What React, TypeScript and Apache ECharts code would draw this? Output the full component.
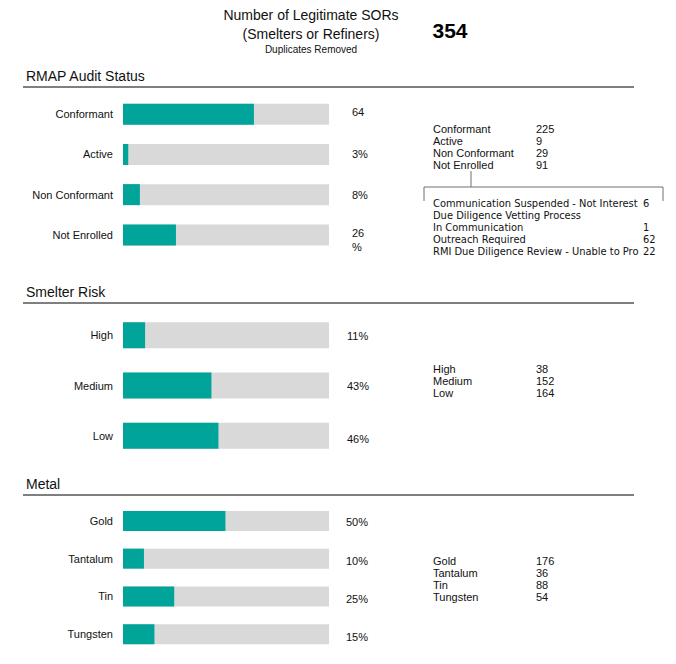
import React, { useEffect, useRef } from "react";
import * as echarts from "echarts";

const total = 354;
const titleLines = ["Number of Legitimate SORs", "(Smelters or Refiners)"];
const subtitle = "Duplicates Removed";

const sectionTitles = ["RMAP Audit Status", "Smelter Risk", "Metal"];

const rmapCategories = ["Conformant", "Active", "Non Conformant", "Not Enrolled"];
const rmapCounts = [225, 9, 29, 91];
const rmapLabels = ["64", "3%", "8%", "26\n%"];

const riskCategories = ["High", "Medium", "Low"];
const riskCounts = [38, 152, 164];
const riskLabels = ["11%", "43%", "46%"];

const metalCategories = ["Gold", "Tantalum", "Tin", "Tungsten"];
const metalCounts = [176, 36, 88, 54];
const metalLabels = ["50%", "10%", "25%", "15%"];

const notEnrolledReasons = [
  "Communication Suspended - Not Interested",
  "Due Diligence Vetting Process",
  "In Communication",
  "Outreach Required",
  "RMI Due Diligence Review - Unable to Proceed",
];
const notEnrolledCounts = ["6", "", "1", "62", "22"];

const TEAL = "#00A499";
const GRAY = "#D9D9D9";
const FONT = "Liberation Sans, Arial, sans-serif";
const SUBFONT = "DejaVu Sans Condensed, DejaVu Sans, sans-serif";

export default function App() {
  const ref = useRef<HTMLDivElement>(null);

  useEffect(() => {
    document.body.style.margin = "0";
    if (!ref.current) return;
    const chart = echarts.init(ref.current, null, { renderer: "svg" });

    const sections = [
      {
        cats: rmapCategories, counts: rmapCounts, labels: rmapLabels,
        top: 94, height: 161, barWidth: 21, dist: 23, offs: [-2, 0, 0, 5],
        headerY: 76, lineY: 87, tableY: 129,
      },
      {
        cats: riskCategories, counts: riskCounts, labels: riskLabels,
        top: 310, height: 151, barWidth: 26, dist: 18, offs: [1, 0, 3],
        headerY: 292, lineY: 303, tableY: 369,
      },
      {
        cats: metalCategories, counts: metalCounts, labels: metalLabels,
        top: 502, height: 151, barWidth: 20, dist: 17, offs: [1, 2, 3, 3],
        headerY: 484, lineY: 495, tableY: 561,
      },
    ];

    const grid: any[] = [];
    const xAxis: any[] = [];
    const yAxis: any[] = [];
    const series: any[] = [];
    const graphic: any[] = [];

    sections.forEach((s, i) => {
      grid.push({ left: 123, width: 206, top: s.top, height: s.height });
      xAxis.push({ gridIndex: i, type: "value", min: 0, max: total, show: false });
      yAxis.push({
        gridIndex: i, type: "category", data: s.cats, inverse: true,
        axisLine: { show: false }, axisTick: { show: false },
        axisLabel: { fontSize: 11, color: "#111", fontFamily: FONT, margin: 10 },
      });
      series.push({
        type: "bar", xAxisIndex: i, yAxisIndex: i, barWidth: s.barWidth, barGap: "-100%",
        silent: true, itemStyle: { color: GRAY },
        data: s.counts.map((_, j) => ({
          value: total,
          label: { offset: [0, s.offs[j]] },
        })),
        label: {
          show: true, position: "right", distance: s.dist,
          formatter: (p: any) => s.labels[p.dataIndex],
          fontSize: 11, color: "#111", fontFamily: FONT, lineHeight: 14, align: "left",
        },
      });
      series.push({
        type: "bar", xAxisIndex: i, yAxisIndex: i, barWidth: s.barWidth, barGap: "-100%",
        silent: true, itemStyle: { color: TEAL }, data: s.counts,
      });

      graphic.push({
        type: "text", x: 26, y: s.headerY,
        style: { text: sectionTitles[i], fontSize: 14, fill: "#111", fontFamily: FONT, textVerticalAlign: "middle" },
      });
      graphic.push({
        type: "line", shape: { x1: 23, y1: s.lineY, x2: 634, y2: s.lineY },
        style: { stroke: "#000", lineWidth: 1 },
      });
      s.cats.forEach((c, j) => {
        graphic.push({
          type: "text", x: 433, y: s.tableY + j * 12,
          style: { text: c, fontSize: 11, fill: "#111", fontFamily: FONT, textVerticalAlign: "middle" },
        });
        graphic.push({
          type: "text", x: 536, y: s.tableY + j * 12,
          style: { text: String(s.counts[j]), fontSize: 11, fill: "#111", fontFamily: FONT, textVerticalAlign: "middle" },
        });
      });
    });

    // bracket
    const bc = "#707070";
    graphic.push({ type: "line", shape: { x1: 471, y1: 171, x2: 471, y2: 187 }, style: { stroke: bc, lineWidth: 1 } });
    graphic.push({ type: "line", shape: { x1: 424, y1: 187, x2: 663, y2: 187 }, style: { stroke: bc, lineWidth: 1 } });
    graphic.push({ type: "line", shape: { x1: 424, y1: 187, x2: 424, y2: 201 }, style: { stroke: bc, lineWidth: 1 } });
    graphic.push({ type: "line", shape: { x1: 663, y1: 187, x2: 663, y2: 201 }, style: { stroke: bc, lineWidth: 1 } });
    notEnrolledReasons.forEach((r, j) => {
      graphic.push({
        type: "text", x: 433, y: 203 + j * 12,
        style: {
          text: r, fontSize: 11, fill: "#111", fontFamily: SUBFONT,
          textVerticalAlign: "middle", width: 207, overflow: "truncate", ellipsis: "",
        },
      });
      graphic.push({
        type: "text", x: 643, y: 203 + j * 12,
        style: { text: notEnrolledCounts[j], fontSize: 11, fill: "#111", fontFamily: SUBFONT, textVerticalAlign: "middle" },
      });
    });

    // title
    titleLines.forEach((t, j) => {
      graphic.push({
        type: "text", x: 311, y: 15 + j * 19,
        style: { text: t, fontSize: 14, fill: "#111", fontFamily: FONT, textAlign: "center", textVerticalAlign: "middle" },
      });
    });
    graphic.push({
      type: "text", x: 311, y: 49,
      style: { text: subtitle, fontSize: 10, fill: "#111", fontFamily: FONT, textAlign: "center", textVerticalAlign: "middle" },
    });
    graphic.push({
      type: "text", x: 450, y: 30,
      style: { text: String(total), fontSize: 21, fontWeight: "bold", fill: "#000", fontFamily: FONT, textAlign: "center", textVerticalAlign: "middle" },
    });

    chart.setOption({
      animation: false,
      backgroundColor: "#fff",
      grid, xAxis, yAxis, series, graphic,
    });

    return () => chart.dispose();
  }, []);

  return <div ref={ref} style={{ width: 676, height: 664 }} />;
}
